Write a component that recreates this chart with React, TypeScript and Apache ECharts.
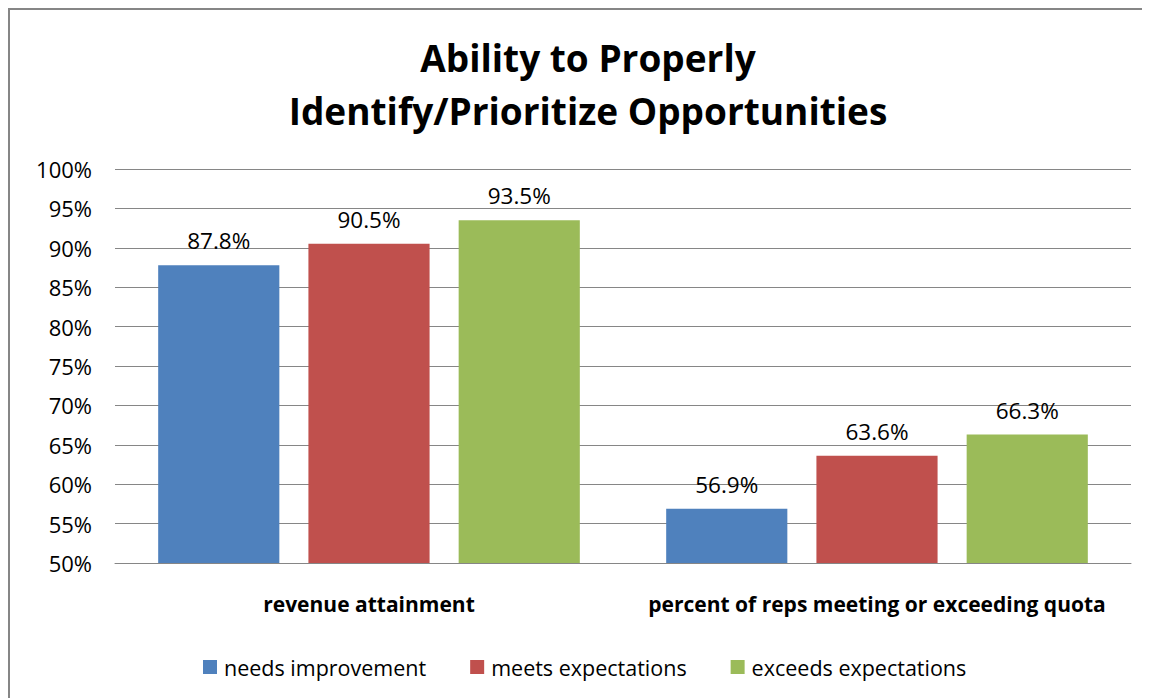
import React, { useEffect, useRef } from "react";
import * as echarts from "echarts";

const titleText = "Ability to Properly\nIdentify/Prioritize Opportunities";
const categories = ["revenue attainment", "percent of reps meeting or exceeding quota"];
const seriesNames = ["needs improvement", "meets expectations", "exceeds expectations"];
const needsImprovement = [87.8, 56.9];
const meetsExpectations = [90.5, 63.6];
const exceedsExpectations = [93.5, 66.3];
const colors = ["#4F81BD", "#C0504D", "#9BBB59"];
const yMin = 50;
const yMax = 100;
const yStep = 5;

const FONT = "'Open Sans', 'Noto Sans', sans-serif";

export default function App() {
  const ref = useRef<HTMLDivElement>(null);
  useEffect(() => {
    if (!ref.current) return;
    const chart = echarts.init(ref.current, null, { renderer: "svg" });
    const values = [needsImprovement, meetsExpectations, exceedsExpectations];
    chart.setOption({
      animation: false,
      backgroundColor: "#ffffff",
      textStyle: { fontFamily: FONT },
      title: {
        text: titleText,
        left: 573,
        textAlign: "center",
        top: 16,
        textStyle: {
          fontFamily: FONT,
          fontSize: 37,
          fontWeight: "bold",
          color: "#000000",
          lineHeight: 53,
        },
      },
      legend: {
        data: seriesNames,
        left: 188,
        top: 641,
        icon: "rect",
        itemWidth: 14,
        itemHeight: 14,
        itemGap: 44,
        textStyle: { fontFamily: FONT, fontSize: 21.5, color: "#000000", padding: [0, 0, 0, 2] },
      },
      grid: { left: 105, right: 17, top: 159, bottom: 135 },
      xAxis: {
        type: "category",
        data: categories,
        axisLine: { show: true, lineStyle: { color: "#868686", width: 1 } },
        axisTick: { show: false },
        axisLabel: {
          interval: 0,
          fontFamily: FONT,
          fontSize: 21,
          fontWeight: "bold",
          color: "#000000",
          margin: 30,
        },
      },
      yAxis: {
        type: "value",
        min: yMin,
        max: yMax,
        interval: yStep,
        axisLine: { show: false },
        axisTick: { show: false },
        axisLabel: {
          fontFamily: FONT,
          fontSize: 22,
          color: "#000000",
          margin: 23,
          formatter: (v: number) => `${v}%`,
        },
        splitLine: { lineStyle: { color: "#868686", width: 1 } },
      },
      series: seriesNames.map((name, i) => ({
        name,
        type: "bar",
        data: values[i],
        itemStyle: { color: colors[i] },
        barGap: "24%",
        barCategoryGap: "17%",
        label: {
          show: true,
          position: "top",
          distance: 13,
          fontFamily: FONT,
          fontSize: 22.5,
          color: "#000000",
          formatter: (p: any) => `${p.value.toFixed(1)}%`,
        },
      })),
    });
    return () => chart.dispose();
  }, []);
  return (
    <div
      style={{
        borderTop: "2px solid #868686",
        borderLeft: "2px solid #868686",
        width: 1138,
        height: 688,
      }}
    >
      <div ref={ref} style={{ width: 1138, height: 688 }} />
    </div>
  );
}
